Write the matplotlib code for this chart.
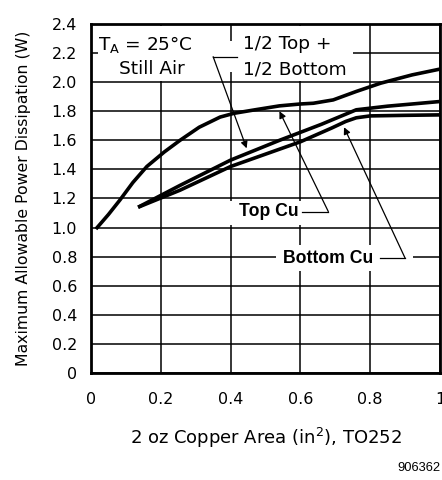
import matplotlib
matplotlib.use("Agg")
import matplotlib.pyplot as plt
from matplotlib.patches import Rectangle

# ---- data ----
top_x = [0.014, 0.05, 0.083, 0.12, 0.16, 0.21, 0.255, 0.31, 0.37, 0.41, 0.47, 0.54, 0.60, 0.637, 0.694, 0.76, 0.83, 0.92, 1.0]
top_y = [0.99, 1.09, 1.19, 1.31, 1.42, 1.52, 1.60, 1.69, 1.76, 1.786, 1.81, 1.837, 1.85, 1.855, 1.878, 1.936, 1.993, 2.05, 2.09]

half_x = [0.135, 0.255, 0.40, 0.54, 0.66, 0.76, 0.85, 0.93, 1.0]
half_y = [1.14, 1.29, 1.464, 1.60, 1.71, 1.81, 1.835, 1.852, 1.867]

bot_x = [0.135, 0.255, 0.40, 0.60, 0.69, 0.73, 0.76, 0.80, 0.90, 1.0]
bot_y = [1.14, 1.257, 1.42, 1.59, 1.685, 1.73, 1.755, 1.768, 1.772, 1.775]

x_ticks = [0, 0.2, 0.4, 0.6, 0.8, 1.0]
x_tick_labels = ["0", "0.2", "0.4", "0.6", "0.8", "1"]
y_ticks = [0, 0.2, 0.4, 0.6, 0.8, 1.0, 1.2, 1.4, 1.6, 1.8, 2.0, 2.2, 2.4]
y_tick_labels = ["0", "0.2", "0.4", "0.6", "0.8", "1.0", "1.2", "1.4", "1.6", "1.8", "2.0", "2.2", "2.4"]

W, H = 442, 480
fig = plt.figure(figsize=(W / 100, H / 100), dpi=100)
ax = fig.add_axes([91 / W, 1 - 373 / H, (440 - 91) / W, (373 - 24) / H])
ax.set_xlim(0, 1)
ax.set_ylim(0, 2.4)

ax.set_xticks(x_ticks)
ax.set_xticklabels(x_tick_labels)
ax.set_yticks(y_ticks)
ax.set_yticklabels(y_tick_labels)
ax.tick_params(length=0, labelsize=11.5)
ax.tick_params(axis="y", pad=10)
ax.tick_params(axis="x", pad=14)
ax.grid(True, color="black", linewidth=1.1, zorder=1)
for s in ax.spines.values():
    s.set_linewidth(2.0)
    s.set_zorder(10)

# curves
ax.plot(top_x, top_y, color="black", linewidth=2.6, zorder=5, solid_capstyle="butt")
ax.plot(half_x, half_y, color="black", linewidth=2.6, zorder=5, solid_capstyle="butt")
ax.plot(bot_x, bot_y, color="black", linewidth=2.6, zorder=5, solid_capstyle="butt")

# white masks behind annotation texts
def mask(x0, y0, x1, y1):
    ax.add_patch(Rectangle((x0, y0), x1 - x0, y1 - y0, facecolor="white",
                           edgecolor="none", zorder=3))

mask(0.02, 2.01, 0.39, 2.385)
mask(0.39, 2.07, 0.42, 2.28)
mask(0.42, 2.01, 0.75, 2.385)
mask(0.395, 1.02, 0.64, 1.18)
mask(0.53, 0.70, 0.922, 0.88)

fs_in = 13.3
ax.text(0.02, 2.26, r"T$_\mathregular{A}$ = 25°C", fontsize=fs_in, ha="left", va="center", zorder=6)
ax.text(0.175, 2.09, "Still Air", fontsize=fs_in, ha="center", va="center", zorder=6)
ax.text(0.436, 2.26, "1/2 Top +", fontsize=fs_in, ha="left", va="center", zorder=6)
ax.text(0.436, 2.09, "1/2 Bottom", fontsize=fs_in, ha="left", va="center", zorder=6)

ax.text(0.51, 1.11, "Top Cu", fontsize=12.7, fontweight="bold", family="Liberation Sans",
        ha="center", va="center", zorder=6)
ax.text(0.68, 0.79, "Bottom Cu", fontsize=12.7, fontweight="bold", family="Liberation Sans",
        ha="center", va="center", zorder=6)

lw_leader = 0.9
# 1/2 Top + 1/2 Bottom leader
ax.plot([0.35, 0.418], [2.175, 2.175], color="black", linewidth=lw_leader, zorder=6)
ax.annotate("", xy=(0.446, 1.545), xytext=(0.35, 2.175),
            arrowprops=dict(arrowstyle="-|>", color="black", lw=lw_leader,
                            mutation_scale=10, shrinkA=0, shrinkB=0), zorder=6)
# Top Cu leader
ax.plot([0.605, 0.68], [1.11, 1.11], color="black", linewidth=lw_leader, zorder=6)
ax.annotate("", xy=(0.54, 1.80), xytext=(0.68, 1.11),
            arrowprops=dict(arrowstyle="-|>", color="black", lw=lw_leader,
                            mutation_scale=10, shrinkA=0, shrinkB=0), zorder=6)
# Bottom Cu leader
ax.plot([0.828, 0.90], [0.79, 0.79], color="black", linewidth=lw_leader, zorder=6)
ax.annotate("", xy=(0.725, 1.69), xytext=(0.90, 0.79),
            arrowprops=dict(arrowstyle="-|>", color="black", lw=lw_leader,
                            mutation_scale=10, shrinkA=0, shrinkB=0), zorder=6)

ax.set_ylabel("Maximum Allowable Power Dissipation (W)", fontsize=11.3, labelpad=15)
ax.set_xlabel(r"2 oz Copper Area (in$^\mathregular{2}$), TO252", fontsize=13, labelpad=13)

fig.text(441 / W, 1 - 468 / H, "906362", fontsize=9.3, family="Liberation Sans",
         ha="right", va="center")

fig.savefig("out.png", dpi=100)
